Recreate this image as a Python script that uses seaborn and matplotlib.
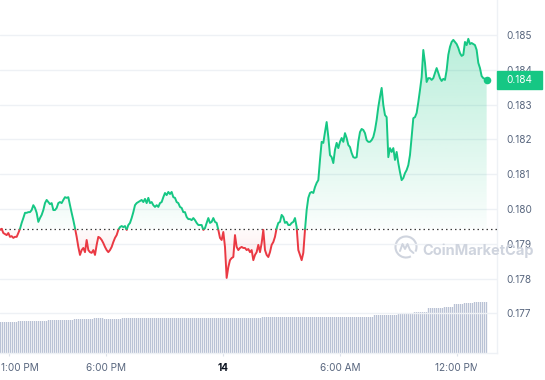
import numpy as np
import pandas as pd
import matplotlib
matplotlib.use("Agg")
import matplotlib.pyplot as plt
import seaborn as sns
from matplotlib.path import Path
from matplotlib.patches import Rectangle, Arc
from matplotlib.lines import Line2D
from matplotlib.colors import to_rgb
from matplotlib.transforms import Bbox, TransformedBbox, ScaledTranslation, blended_transform_factory

# ---------------- data ----------------
price = [
    0.17940, 0.17943, 0.17931, 0.17928, 0.17925, 0.17931, 0.17920, 0.17922, 0.17917, 0.17920,
    0.17920, 0.17931, 0.17943, 0.17960, 0.17974, 0.17989, 0.17989, 0.17991, 0.17991, 0.17997,
    0.18011, 0.18003, 0.17989, 0.17963, 0.17974, 0.17983, 0.17997, 0.18017, 0.18026, 0.18020,
    0.18014, 0.18017, 0.17997, 0.17997, 0.18003, 0.18017, 0.18020, 0.18017, 0.18026, 0.18034,
    0.18032, 0.18034, 0.18011, 0.17989, 0.17968, 0.17945, 0.17920, 0.17891, 0.17868, 0.17882,
    0.17888, 0.17876, 0.17911, 0.17882, 0.17876, 0.17874, 0.17882, 0.17868, 0.17897, 0.17920,
    0.17917, 0.17911, 0.17902, 0.17891, 0.17882, 0.17876, 0.17882, 0.17891, 0.17905, 0.17917,
    0.17925, 0.17940, 0.17948, 0.17951, 0.17948, 0.17951, 0.17940, 0.17954, 0.17960, 0.17974,
    0.17991, 0.18011, 0.18017, 0.18020, 0.18023, 0.18026, 0.18020, 0.18029, 0.18017, 0.18032,
    0.18017, 0.18020, 0.18011, 0.18006, 0.18011, 0.18006, 0.18017, 0.18020, 0.18034, 0.18046,
    0.18040, 0.18049, 0.18043, 0.18049, 0.18034, 0.18032, 0.18020, 0.18017, 0.18006, 0.18003,
    0.17991, 0.17991, 0.17977, 0.17971, 0.17971, 0.17968, 0.17974, 0.17968, 0.17960, 0.17954,
    0.17954, 0.17954, 0.17940, 0.17945, 0.17960, 0.17974, 0.17960, 0.17963, 0.17974, 0.17963,
    0.17960, 0.17940, 0.17917, 0.17911, 0.17934, 0.17891, 0.17802, 0.17833, 0.17853, 0.17859,
    0.17862, 0.17925, 0.17891, 0.17882, 0.17888, 0.17891, 0.17888, 0.17888, 0.17882, 0.17885,
    0.17876, 0.17882, 0.17853, 0.17868, 0.17876, 0.17897, 0.17876, 0.17902, 0.17940, 0.17882,
    0.17868, 0.17862, 0.17876, 0.17897, 0.17905, 0.17920, 0.17945, 0.17960, 0.17963, 0.17983,
    0.17977, 0.17960, 0.17963, 0.17954,
    0.17954, 0.17960, 0.17963, 0.17974, 0.17948, 0.17882, 0.17868, 0.17853, 0.17874, 0.17940,
    0.17997, 0.18032, 0.18046, 0.18049, 0.18046, 0.18063, 0.18075, 0.18083, 0.18141, 0.18193,
    0.18190, 0.18221, 0.18250, 0.18207, 0.18155, 0.18149, 0.18132, 0.18170, 0.18190, 0.18175,
    0.18193, 0.18204, 0.18193, 0.18218, 0.18204, 0.18184, 0.18178, 0.18161, 0.18149, 0.18147,
    0.18149, 0.18193, 0.18221, 0.18230, 0.18227, 0.18218, 0.18198, 0.18193, 0.18193, 0.18198,
    0.18207, 0.18227, 0.18256, 0.18293, 0.18322, 0.18348, 0.18299, 0.18270, 0.18264, 0.18149,
    0.18175, 0.18164, 0.18175, 0.18141, 0.18164, 0.18132, 0.18106, 0.18083, 0.18089, 0.18103,
    0.18112, 0.18126, 0.18155, 0.18207, 0.18261, 0.18264, 0.18276, 0.18307, 0.18342, 0.18379,
    0.18457, 0.18420, 0.18365, 0.18376, 0.18376, 0.18371, 0.18376, 0.18391, 0.18405, 0.18391,
    0.18376, 0.18368, 0.18374, 0.18371, 0.18399, 0.18443, 0.18466, 0.18480, 0.18486, 0.18480,
    0.18474, 0.18463, 0.18448, 0.18440, 0.18443, 0.18480, 0.18471, 0.18489, 0.18474, 0.18477,
    0.18474, 0.18471, 0.18457, 0.18420, 0.18405, 0.18382, 0.18376, 0.18374, 0.18371,
]
baseline = 0.17943                 # opening price (dotted reference)
t_start, t_end = -0.436, 24.52     # hours after 1:00 PM

vol_levels = [31, 32, 33, 34, 35, 34, 35, 36, 38, 40, 41, 45, 46, 49, 50, 51]
vol_runs   = [9, 15, 13, 10, 5, 9, 70, 56, 12, 8, 7, 8, 5, 5, 5, 7]

xtick_hours = [0, 5, 11, 17, 23]
xtick_labels = ["1:00 PM", "6:00 PM", "14", "6:00 AM", "12:00 PM"]
ytick_vals = [0.177, 0.178, 0.179, 0.180, 0.181, 0.182, 0.183, 0.184, 0.185]

# ---------------- style ----------------
sns.set_theme(style="white")
plt.rcParams["font.family"] = ["Inter", "DejaVu Sans"]
GREEN = "#16c784"
RED = "#ea3943"
GRID = "#eef1f5"
TXT = "#58667e"
VOLC = "#b9c2d5"

W, H = 545, 380
PXH = 19.5                          # pixels per hour
X0 = -8.5 / PXH                     # left edge of plot (hours)
fig = plt.figure(figsize=(W / 100, H / 100), dpi=100)
rect = [0, 27 / H, 497 / W, 353 / H]
ax_v = fig.add_axes(rect)
ax = fig.add_axes(rect, sharex=ax_v)
ax_v.set_zorder(0)
ax.set_zorder(1)
ax.patch.set_visible(False)

p = np.array(price)
t = np.linspace(t_start, t_end, len(p))

# volume bars (one bar every 2 px)
vol = np.repeat(vol_levels, vol_runs)
tv = X0 + (np.arange(len(vol)) * 2 + 0.5) / PXH
bars = ax_v.bar(tv, vol, width=1.3 / PXH, color=VOLC, linewidth=0)
for b in bars:
    b.set_snap(False)
ax_v.set_ylim(0, 353)
ax_v.axis("off")

# gradient fills
def grad_fill(mask, y0, y1, a0, a1, color):
    coll = ax.fill_between(t, p, baseline, where=mask, interpolate=True)
    paths = coll.get_paths()
    coll.remove()
    path = Path.make_compound_path(*paths)
    rgba = np.zeros((256, 1, 4))
    rgba[..., :3] = to_rgb(color)
    rgba[:, 0, 3] = np.linspace(a0, a1, 256)
    im = ax.imshow(rgba, extent=[t_start, t_end, y0, y1], origin="lower",
                   aspect="auto", zorder=1, interpolation="bilinear")
    im.set_clip_path(path, ax.transData)

grad_fill(p >= baseline, baseline, p.max(), 0.02, 0.30, GREEN)
grad_fill(p < baseline, p.min(), baseline, 0.14, 0.02, RED)

# split line into up / down segments at baseline crossings
rows = []
seg = 0
up = p[0] >= baseline
rows.append((t[0], p[0], seg, "up" if up else "down"))
for i in range(len(p) - 1):
    u2 = p[i + 1] >= baseline
    if u2 != up:
        tc = t[i] + (baseline - p[i]) / (p[i + 1] - p[i]) * (t[i + 1] - t[i])
        rows.append((tc, baseline, seg, "up" if up else "down"))
        seg += 1
        up = u2
        rows.append((tc, baseline, seg, "up" if up else "down"))
    rows.append((t[i + 1], p[i + 1], seg, "up" if up else "down"))
df = pd.DataFrame(rows, columns=["t", "price", "seg", "side"])
sns.lineplot(data=df, x="t", y="price", units="seg", hue="side",
             palette={"up": GREEN, "down": RED}, estimator=None, sort=False,
             legend=False, lw=1.4, ax=ax, zorder=4)

ax.axhline(baseline, color="#3c3c3c", lw=0.9, ls=(0, (1.2, 2.4)), zorder=3)
ax.scatter([t[-1]], [p[-1]], s=30, color=GREEN, linewidths=0, zorder=6)

ax.set_xlim(X0, 488.5 / PXH)
ax.set_ylim(0.175862, 0.186006)
ax.set_xlabel("")
ax.set_ylabel("")

# grid / spines
ax.grid(axis="y", color=GRID, lw=1)
ax.grid(axis="x", visible=False)
for s in ["top", "left"]:
    ax.spines[s].set_visible(False)
for s in ["right", "bottom"]:
    ax.spines[s].set_color(GRID)
    ax.spines[s].set_linewidth(1)

# y ticks on right
ax.yaxis.tick_right()
ax.set_yticks(ytick_vals)
ax.set_yticklabels([f"{v:.3f}" for v in ytick_vals])
ax.tick_params(axis="y", length=0, pad=6.5, labelsize=7.2, labelcolor=TXT)

# x ticks
ax.set_xticks(xtick_hours)
xl = ax.set_xticklabels(xtick_labels)
ax.tick_params(axis="x", bottom=True, length=2.2, width=0.8, color="#dde2ea",
               pad=5.2, labelsize=7.2, labelcolor=TXT, direction="out")
xl[2].set_fontweight("bold")
xl[2].set_color("#0d1421")
xl[0].set_ha("left")
xl[0].set_transform(xl[0].get_transform() + ScaledTranslation(-7.5 / 100, 0, fig.dpi_scale_trans))
xl[4].set_clip_on(True)
xl[4].set_clip_box(TransformedBbox(Bbox([[0, 0], [477 / W, 1]]), fig.transFigure))

# current price tag
bt = blended_transform_factory(ax.transAxes, ax.transData)
h = 18 / 34800
ax.add_patch(Rectangle((1.0, p[-1] - h / 2), 45 / 497, h, transform=bt,
                       color=GREEN, clip_on=False, zorder=10))
ax.text(1 + 9 / 497, p[-1], f"{p[-1]:.3f}", transform=bt, ha="left", va="center",
        color="white", fontsize=7.2, zorder=11, clip_on=False)

# watermark
WM = "#cfd4de"
fig.text(422 / W, 1 - 251 / H, "CoinMarketCap", fontsize=10.5, fontweight="bold",
         color=WM, va="center", ha="left")
cx, cy = 406, 247
fig.add_artist(Arc((cx / W, 1 - cy / H), 21 / W, 21 / H, theta1=-35, theta2=290,
                   transform=fig.transFigure, color=WM, lw=1.5))
zx = np.array([-6, -3.5, -1, 1.5, 4, 7.5])
zy = np.array([-4, 3, -2, 3, -3, -6])
fig.add_artist(Line2D((cx + zx) / W, 1 - (cy - zy) / H, transform=fig.transFigure,
                      color=WM, lw=1.4, solid_joinstyle="round"))

fig.savefig("out.png", dpi=100)
